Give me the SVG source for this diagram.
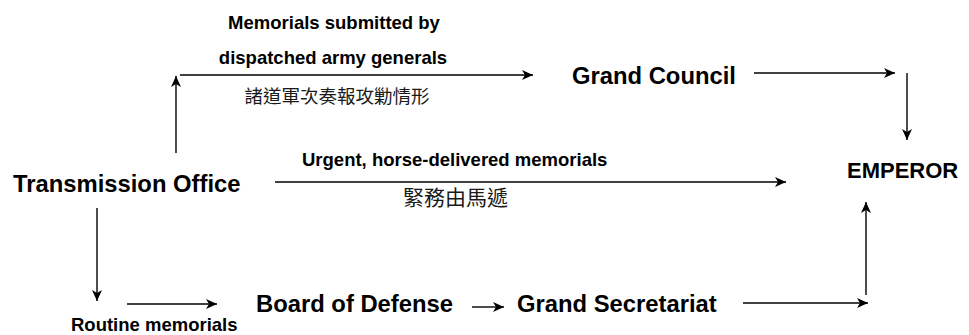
<svg xmlns="http://www.w3.org/2000/svg" width="969" height="335" viewBox="0 0 969 335">
<style>
.t{font-family:"Liberation Sans",Arial,Helvetica,sans-serif;font-weight:bold;fill:#000}
.big{font-size:23.8px}
.sm{font-size:18.5px}
.cjk{font-family:"Noto Sans CJK TC","Noto Sans CJK SC",sans-serif;font-size:18.5px;fill:#1a1a1a}
.c{fill:none;stroke:#000;stroke-width:1.4}
</style>
<defs>
<marker id="ah" viewBox="-12 -6 13 12" markerWidth="13" markerHeight="12" refX="0" refY="0" orient="auto" markerUnits="userSpaceOnUse">
<path d="M0,0 L-11,-5 L-8,0 L-11,5 Z" fill="#000"/>
</marker>
</defs>
<rect width="969" height="335" fill="#fff"/>
<g id="connectors">
<path class="c" d="M176,153 V76" marker-end="url(#ah)"/>
<path class="c" d="M180,75 H533" marker-end="url(#ah)"/>
<path class="c" d="M754,73 H895" marker-end="url(#ah)"/>
<path class="c" d="M907,73 V140" marker-end="url(#ah)"/>
<path class="c" d="M275,182 H786" marker-end="url(#ah)"/>
<path class="c" d="M97,208 V301" marker-end="url(#ah)"/>
<path class="c" d="M127,304 H217" marker-end="url(#ah)"/>
<path class="c" d="M472,307 H504" marker-end="url(#ah)"/>
<path class="c" d="M743,303 H868" marker-end="url(#ah)"/>
<path class="c" d="M866,295 V202" marker-end="url(#ah)"/>
</g>
<g id="label-army">
<text class="t sm" x="334" y="29" text-anchor="middle">Memorials submitted by</text>
<text class="t sm" x="333" y="64" text-anchor="middle">dispatched army generals</text>
<text class="cjk" x="337" y="103" text-anchor="middle">諸道軍次奏報攻勦情形</text>
</g>
<g id="grand-council"><text class="t big" x="572" y="84">Grand Council</text></g>
<g id="transmission-office"><text class="t big" x="13" y="192">Transmission Office</text></g>
<g id="label-urgent">
<text class="t sm" x="302" y="166">Urgent, horse-delivered memorials</text>
<text class="cjk" style="font-size:21px" x="455.5" y="205" text-anchor="middle">緊務由馬遞</text>
</g>
<g id="emperor"><text class="t" style="font-size:22px" x="847" y="178">EMPEROR</text></g>
<g id="board-of-defense"><text class="t big" x="256" y="312">Board of Defense</text></g>
<g id="grand-secretariat"><text class="t big" x="517" y="312">Grand Secretariat</text></g>
<g id="label-routine"><text class="t sm" x="71" y="331">Routine memorials</text></g>
</svg>
